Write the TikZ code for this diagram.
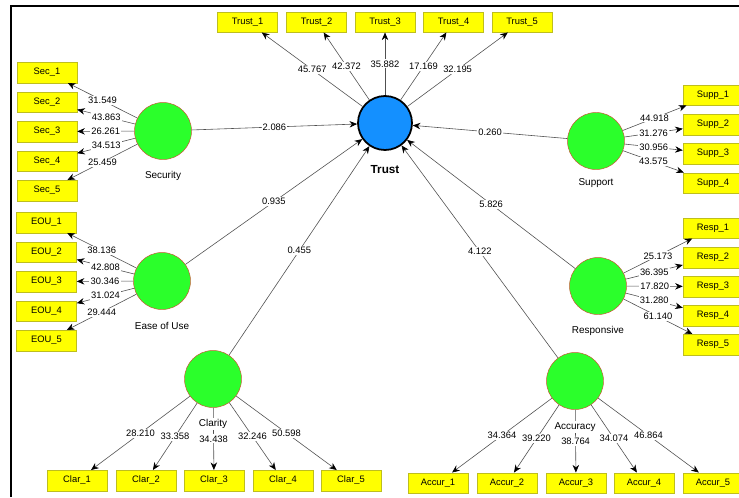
\documentclass[tikz,border=0pt]{standalone}
\usepackage{fontspec}
\setmainfont{Liberation Sans}
\usetikzlibrary{positioning,arrows.meta}
\definecolor{boxfill}{RGB}{255,255,0}
\definecolor{boxedge}{RGB}{190,190,30}
\definecolor{lvfill}{RGB}{43,255,43}
\definecolor{lvedge}{RGB}{205,80,50}
\definecolor{trustfill}{RGB}{20,144,255}
\definecolor{linegray}{RGB}{80,80,80}
\tikzset{
  ind/.style={draw=boxedge,fill=boxfill,minimum width=1.8cm,minimum height=0.615cm,inner sep=0pt,font=\fontsize{8}{9}\selectfont},
  lv/.style={circle,draw=lvedge,fill=lvfill,minimum size=1.71cm,inner sep=0pt},
  lvname/.style={fill=white,inner sep=1pt,font=\fontsize{8.5}{10}\selectfont},
  wt/.style={fill=white,inner sep=1pt,font=\fontsize{8}{9}\selectfont},
  link/.style={draw=linegray,line width=0.5pt,->},
}
\begin{document}
\begin{tikzpicture}[x=0.03cm,y=-0.03cm,>={Stealth[length=6.5pt,width=5.5pt,color=black]}]
      \useasboundingbox (0,0) rectangle (739,497);
      \draw[line width=1.7pt] (11,497) -- (11,6) -- (745,6);

      % latent variables
      \node[circle,draw=black,line width=1.5pt,fill=trustfill,minimum size=1.62cm,inner sep=0pt] (trust) at (385,123) {};
      \node[lv] (sec) at (163,131) {};
      \node[lv] (eou) at (162,281) {};
      \node[lv] (supp) at (596,141) {};
      \node[lv] (resp) at (598,286) {};
      \node[lv] (clar) at (213,379) {};
      \node[lv] (accu) at (575,381) {};

      % indicators
      \node[ind] (t1) at (247.5,22) {Trust\_1};
      \node[ind] (t2) at (316.5,22) {Trust\_2};
      \node[ind] (t3) at (385,22) {Trust\_3};
      \node[ind] (t4) at (453.5,22) {Trust\_4};
      \node[ind] (t5) at (522,22) {Trust\_5};

      \node[ind] (s1) at (47,72.5) {Sec\_1};
      \node[ind] (s2) at (47,102) {Sec\_2};
      \node[ind] (s3) at (47,131.5) {Sec\_3};
      \node[ind] (s4) at (47,161) {Sec\_4};
      \node[ind] (s5) at (47,190.5) {Sec\_5};

      \node[ind] (e1) at (46.5,222.5) {EOU\_1};
      \node[ind] (e2) at (46.5,252) {EOU\_2};
      \node[ind] (e3) at (46.5,281.5) {EOU\_3};
      \node[ind] (e4) at (46.5,311) {EOU\_4};
      \node[ind] (e5) at (46.5,340.5) {EOU\_5};

      \node[ind] (u1) at (713,95) {Supp\_1};
      \node[ind] (u2) at (713,124.5) {Supp\_2};
      \node[ind] (u3) at (713,153.5) {Supp\_3};
      \node[ind] (u4) at (713,183) {Supp\_4};

      \node[ind] (r1) at (713,228) {Resp\_1};
      \node[ind] (r2) at (713,257.5) {Resp\_2};
      \node[ind] (r3) at (713,286.5) {Resp\_3};
      \node[ind] (r4) at (713,315.5) {Resp\_4};
      \node[ind] (r5) at (713,344.5) {Resp\_5};

      \node[ind] (c1) at (77,480.5) {Clar\_1};
      \node[ind] (c2) at (146,480.5) {Clar\_2};
      \node[ind] (c3) at (214,480.5) {Clar\_3};
      \node[ind] (c4) at (283,480.5) {Clar\_4};
      \node[ind] (c5) at (351,480.5) {Clar\_5};

      \node[ind] (a1) at (438,483) {Accur\_1};
      \node[ind] (a2) at (507,483) {Accur\_2};
      \node[ind] (a3) at (576,483) {Accur\_3};
      \node[ind] (a4) at (644,483) {Accur\_4};
      \node[ind] (a5) at (713,483) {Accur\_5};

      % outer loadings
      \draw[link] (trust) -- node[wt]{45.767} (t1);
      \draw[link] (trust) -- node[wt]{42.372} (t2);
      \draw[link] (trust) -- node[wt]{35.882} (t3);
      \draw[link] (trust) -- node[wt]{17.169} (t4);
      \draw[link] (trust) -- node[wt]{32.195} (t5);

      \draw[link] (sec) -- node[wt]{31.549} (s1);
      \draw[link] (sec) -- node[wt]{43.863} (s2);
      \draw[link] (sec) -- node[wt]{26.261} (s3);
      \draw[link] (sec) -- node[wt]{34.513} (s4);
      \draw[link] (sec) -- node[wt]{25.459} (s5);

      \draw[link] (eou) -- node[wt]{38.136} (e1);
      \draw[link] (eou) -- node[wt]{42.808} (e2);
      \draw[link] (eou) -- node[wt]{30.346} (e3);
      \draw[link] (eou) -- node[wt]{31.024} (e4);
      \draw[link] (eou) -- node[wt]{29.444} (e5);

      \draw[link] (supp) -- node[wt]{44.918} (u1);
      \draw[link] (supp) -- node[wt]{31.276} (u2);
      \draw[link] (supp) -- node[wt]{30.956} (u3);
      \draw[link] (supp) -- node[wt]{43.575} (u4);

      \draw[link] (resp) -- node[wt]{25.173} (r1);
      \draw[link] (resp) -- node[wt]{36.395} (r2);
      \draw[link] (resp) -- node[wt]{17.820} (r3);
      \draw[link] (resp) -- node[wt]{31.280} (r4);
      \draw[link] (resp) -- node[wt]{61.140} (r5);

      \draw[link] (clar) -- node[wt]{28.210} (c1);
      \draw[link] (clar) -- node[wt]{33.358} (c2);
      \draw[link] (clar) -- node[wt]{34.438} (c3);
      \draw[link] (clar) -- node[wt]{32.246} (c4);
      \draw[link] (clar) -- node[wt]{50.598} (c5);

      \draw[link] (accu) -- node[wt]{34.364} (a1);
      \draw[link] (accu) -- node[wt]{39.220} (a2);
      \draw[link] (accu) -- node[wt]{38.764} (a3);
      \draw[link] (accu) -- node[wt]{34.074} (a4);
      \draw[link] (accu) -- node[wt]{46.864} (a5);

      % paths to trust
      \draw[link] (sec) -- node[wt]{2.086} (trust);
      \draw[link] (supp) -- node[wt]{0.260} (trust);
      \draw[link] (eou) -- node[wt]{0.935} (trust);
      \draw[link] (resp) -- node[wt]{5.826} (trust);
      \draw[link] (clar) -- node[wt]{0.455} (trust);
      \draw[link] (accu) -- node[wt]{4.122} (trust);

      % names
      \node[lvname,font=\fontsize{10}{12}\selectfont\bfseries,below=0.4cm of trust] (trustname) {Trust};
      \node[lvname,below=0.31cm of sec] (secname) {Security};
      \node[lvname,below=0.34cm of eou] (eouname) {Ease of Use};
      \node[lvname,below=0.22cm of supp] (suppname) {Support};
      \node[lvname,below=0.31cm of resp] (respname) {Responsive};
      \node[lvname,below=0.31cm of clar] (clarname) {Clarity};
      \node[lvname,below=0.34cm of accu] (accuname) {Accuracy};
    \end{tikzpicture}
\end{document}
